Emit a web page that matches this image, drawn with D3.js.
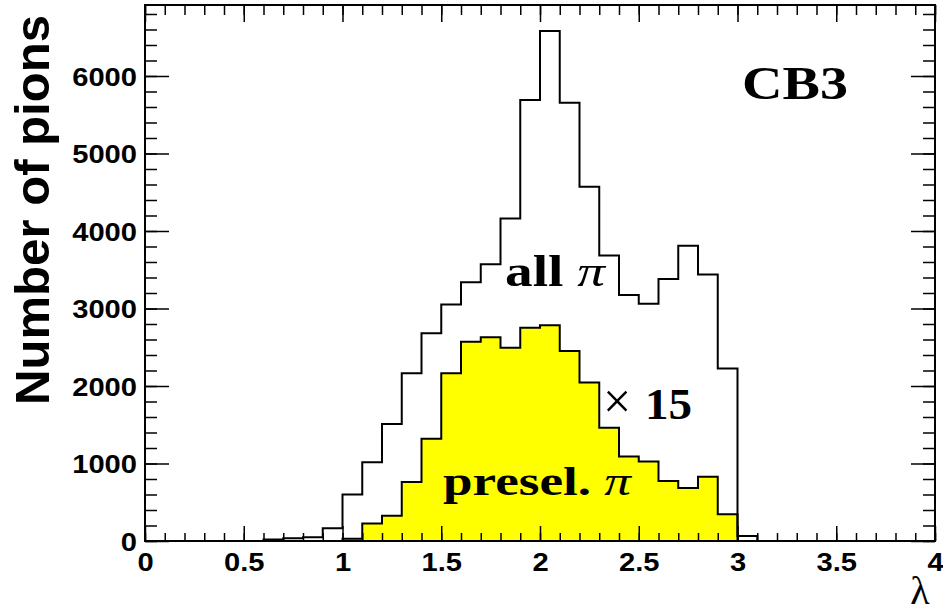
<!DOCTYPE html>
<html>
<head>
<meta charset="utf-8">
<script src="https://cdn.jsdelivr.net/npm/d3@7"></script>
<style>
  body { margin: 0; background: #fff; }
  svg { display: block; }
  .lab { font-family: "Liberation Sans", Arial, sans-serif; font-weight: bold; font-size: 26px; fill: #000; }
  .serif { font-family: "Liberation Serif", "Times New Roman", Times, serif; font-weight: bold; fill: #000; }
</style>
</head>
<body>
<div id="chart"></div>
<script>
// lower edge of each non-empty lambda bin (bin width 0.1)
const binLow = [0.6, 0.7, 0.8, 0.9, 1.0, 1.1, 1.2, 1.3, 1.4, 1.5, 1.6, 1.7, 1.8,
                1.9, 2.0, 2.1, 2.2, 2.3, 2.4, 2.5, 2.6, 2.7, 2.8, 2.9, 3.0];
const binWidth = 0.1;

// all pions
const allPions = [20, 35, 50, 165, 600, 1015, 1510, 2165, 2680, 3050, 3340, 3570, 4160,
                  5690, 6580, 5655, 4570, 3685, 3175, 3060, 3380, 3810, 3440, 2225, 65];

// preselected pions, scaled x15
const preselPions = [0, 0, 0, 0, 30, 225, 325, 760, 1320, 2165, 2570, 2630, 2495,
                     2750, 2785, 2450, 2045, 1460, 1090, 1025, 775, 685, 830, 345, 0];

const xMajor = [0, 0.5, 1, 1.5, 2, 2.5, 3, 3.5, 4];
const xMinor = d3.range(0, 41).map(i => i / 10);
const yMajor = [0, 1000, 2000, 3000, 4000, 5000, 6000];
const yMinor = d3.range(0, 35).map(i => i * 200);

const W = 943, H = 613;
const frame = {left: 145, right: 935, top: 5, bottom: 541};
const stretch = 1.12;

const svg = d3.select("#chart").append("svg")
  .attr("width", W).attr("height", H);

const x = d3.scaleLinear().domain([0, 4]).range([frame.left, frame.right]);
const y = d3.scaleLinear().domain([0, 6916]).range([frame.bottom, frame.top]);

function stepPoints(vals) {
  const pts = [{x: binLow[0], v: 0}];
  binLow.forEach((lo, i) => pts.push({x: lo, v: vals[i]}));
  const last = binLow[binLow.length - 1] + binWidth;
  pts.push({x: last, v: vals[vals.length - 1]});
  pts.push({x: last, v: 0});
  return pts;
}

const area = d3.area().curve(d3.curveStepAfter)
  .x(d => x(d.x)).y0(y(0)).y1(d => y(d.v));
const line = d3.line().curve(d3.curveStepAfter)
  .x(d => x(d.x)).y(d => y(d.v));

const presel = stepPoints(preselPions);
svg.append("path").datum(presel)
  .attr("d", area).attr("fill", "#ffff00").attr("stroke", "none");
svg.append("path").datum(presel)
  .attr("d", line).attr("fill", "none").attr("stroke", "#000").attr("stroke-width", 2);

svg.append("path").datum(stepPoints(allPions))
  .attr("d", line).attr("fill", "none").attr("stroke", "#000").attr("stroke-width", 2);

// tick marks on all four sides, pointing inward
function ticks(axis, vals, size, tr) {
  svg.append("g").attr("transform", tr)
    .call(axis.tickValues(vals).tickSize(size).tickFormat(""))
    .call(g => g.select(".domain").remove())
    .selectAll("line").attr("stroke", "#000").attr("stroke-width", 1.5);
}
ticks(d3.axisTop(x), xMinor, 8, `translate(0,${frame.bottom})`);
ticks(d3.axisTop(x), xMajor, 15, `translate(0,${frame.bottom})`);
ticks(d3.axisBottom(x), xMinor, 10, `translate(0,${frame.top})`);
ticks(d3.axisBottom(x), xMajor, 17, `translate(0,${frame.top})`);
ticks(d3.axisRight(y), yMinor, 12, `translate(${frame.left},0)`);
ticks(d3.axisRight(y), yMajor, 24, `translate(${frame.left},0)`);
ticks(d3.axisLeft(y), yMinor, 12, `translate(${frame.right},0)`);
ticks(d3.axisLeft(y), yMajor, 24, `translate(${frame.right},0)`);

// frame
svg.append("rect")
  .attr("x", frame.left).attr("y", frame.top)
  .attr("width", frame.right - frame.left).attr("height", frame.bottom - frame.top)
  .attr("fill", "none").attr("stroke", "#000").attr("stroke-width", 2);

// tick labels
const yLab = svg.append("g").attr("transform", `translate(${frame.left},0)`)
  .call(d3.axisLeft(y).tickValues(yMajor).tickSize(0).tickPadding(8)
    .tickFormat(d3.format("d")));
yLab.select(".domain").remove();
yLab.selectAll("text").attr("class", "lab").attr("font-family", null).attr("font-size", null)
  .attr("dy", "0.36em");

const xLab = svg.append("g").attr("transform", `translate(0,${frame.bottom})`)
  .call(d3.axisBottom(x).tickValues(xMajor).tickSize(0).tickPadding(12)
    .tickFormat(d3.format("")));
xLab.select(".domain").remove();
xLab.selectAll("text").attr("class", "lab").attr("font-family", null).attr("font-size", null);

svg.selectAll(".lab").each(function() {
  const w = this.getComputedTextLength();
  d3.select(this).attr("textLength", w * stretch).attr("lengthAdjust", "spacingAndGlyphs");
});

// axis titles
svg.append("text")
  .attr("class", "lab")
  .attr("transform", "translate(49,210) rotate(-90)")
  .attr("text-anchor", "middle")
  .style("font-size", "48px")
  .attr("textLength", 390).attr("lengthAdjust", "spacingAndGlyphs")
  .text("Number of pions");

svg.append("text")
  .attr("x", 920).attr("y", 604)
  .attr("text-anchor", "middle")
  .style("font-family", "'Liberation Serif', 'Times New Roman', serif")
  .style("font-size", "40px")
  .text("λ");

// annotations
function note(txt, pi, x0, base, size, len) {
  const t = svg.append("text").attr("class", "serif")
    .attr("x", x0).attr("y", base)
    .style("font-size", size + "px")
    .attr("textLength", len).attr("lengthAdjust", "spacingAndGlyphs");
  t.append("tspan").text(txt);
  if (pi) t.append("tspan").style("font-style", "italic").style("font-weight", "normal").text(pi);
}
note("CB3", null, 742, 99, 47, 106);
note("all ", "π", 505, 286, 45, 100);
note("presel. ", "π", 443, 495, 40, 188);

svg.append("text").attr("class", "serif")
  .attr("x", 603).attr("y", 418)
  .style("font-size", "50px").style("font-weight", "normal")
  .text("×");
svg.append("text").attr("class", "serif")
  .attr("x", 645).attr("y", 419)
  .style("font-size", "45px")
  .attr("textLength", 47).attr("lengthAdjust", "spacingAndGlyphs")
  .text("15");
</script>
</body>
</html>
